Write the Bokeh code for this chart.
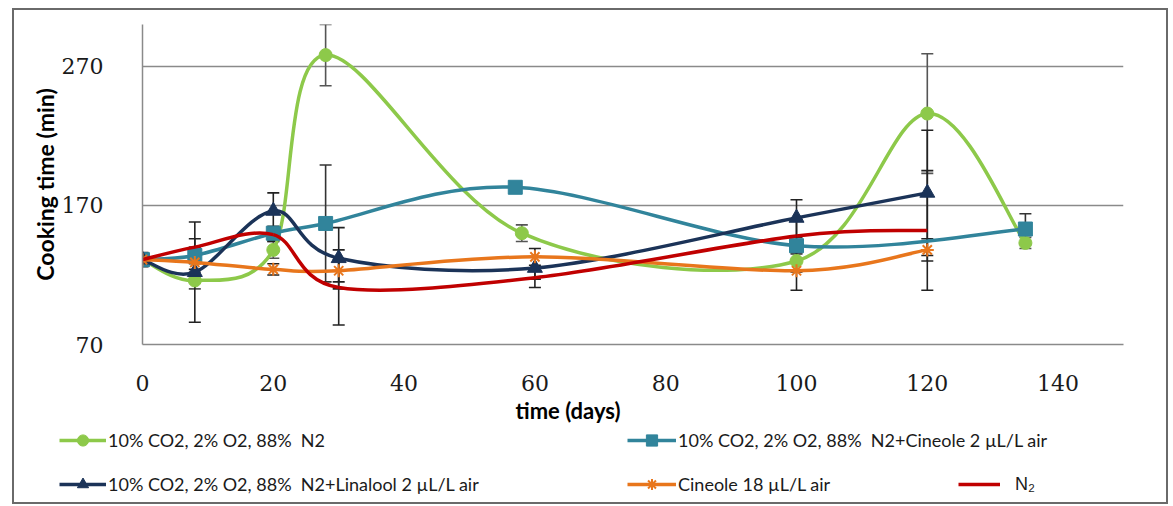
from bokeh.plotting import figure
from bokeh.layouts import column
from bokeh.models import (ColumnDataSource, Whisker, TeeHead, Legend, LegendItem,
                          FixedTicker, Range1d, Title)
from bokeh.embed import file_html
from bokeh.resources import INLINE

# ---------------- data ----------------
green_x = [0, 8, 20, 28, 58, 100, 120, 135]
green_y = [131, 116, 138, 278, 150, 130, 236, 143]
green_err = [4, 6, 6, 22, 6, 8, 43, 4]

blue_x = [0, 8, 20, 28, 57, 100, 135]
blue_y = [131, 134, 150, 157, 183, 141, 153]
blue_err = [4, 6, 5, 42, 4, 6, 11]

navy_x = [0, 8, 20, 30, 60, 100, 120]
navy_y = [131, 122, 166, 132, 125, 161, 179]
navy_err = [5, 36, 13, 22, 8, 13, 45]

orange_x = [0, 8, 20, 30, 60, 100, 120]
orange_y = [131, 129, 124, 123, 133, 123, 138]
orange_err = [4, 5, 4, 8, 6, 14, 8]

red_x = [0, 8, 20, 30, 60, 100, 120]
red_y = [131, 140, 149, 111, 118, 148, 152]
red_err = [4, 6, 5, 27, 7, 12, 43]

labels = [
    "10% CO2, 2% O2, 88%  N2",
    "10% CO2, 2% O2, 88%  N2+Cineole 2 \u00b5L/L air",
    "10% CO2, 2% O2, 88%  N2+Linalool 2 \u00b5L/L air",
    "Cineole 18 \u00b5L/L air",
    "N\u2082",
]
x_title = "time (days)"
y_title = "Cooking time (min)"
x_ticks = [0, 20, 40, 60, 80, 100, 120, 140]
y_ticks = [70, 170, 270]

GREEN = "#8DC94A"
BLUE = "#31849B"
NAVY = "#1B3358"
ORANGE = "#E8761C"
RED = "#C00000"

W = 1152
HM, HL = 416, 76
LEFT, TOP, RIGHT = 128, 14, 43
BOTTOM = HM - 334

p = figure(width=W, height=HM, output_backend="svg", toolbar_location=None,
           x_range=Range1d(0, 150), y_range=Range1d(70, 300),
           min_border_left=LEFT, min_border_top=TOP,
           min_border_right=RIGHT, min_border_bottom=BOTTOM)
p.frame_align = False
p.outline_line_color = None
p.background_fill_color = "white"
p.border_fill_color = "white"

p.xgrid.grid_line_color = None
p.ygrid.ticker = FixedTicker(ticks=y_ticks)
p.ygrid.grid_line_color = "#8a8a8a"
p.ygrid.grid_line_width = 1.3

p.xaxis.ticker = FixedTicker(ticks=x_ticks)
p.yaxis.ticker = FixedTicker(ticks=y_ticks)
for ax in (p.xaxis[0], p.yaxis[0]):
    ax.axis_line_color = "#8a8a8a"
    ax.axis_line_width = 1.5
    ax.major_tick_line_color = None
    ax.minor_tick_line_color = None
    ax.major_label_text_font = "DejaVu Serif"
    ax.major_label_text_font_size = "22px"
    ax.major_label_text_color = "#1a1a1a"
    ax.axis_label_text_font = "Lato"
    ax.axis_label_text_font_style = "bold"
    ax.axis_label_text_color = "#000000"

p.xaxis.major_label_standoff = 24
p.yaxis.axis_label = y_title
p.yaxis.axis_label_text_font_size = "23px"
p.yaxis.major_label_standoff = 33
p.yaxis.axis_label_standoff = 0

# x-axis title sits left of centre, as in the original
p.add_layout(Title(text=x_title, align="left", offset=373, standoff=3,
                   text_font="Lato", text_font_style="bold",
                   text_font_size="22px", text_color="#000000"), "below")


def bezier_source(xs, ys):
    n = len(xs)
    d = dict(x0=[], y0=[], x1=[], y1=[], cx0=[], cy0=[], cx1=[], cy1=[])
    for i in range(n - 1):
        a = i - 1 if i > 0 else i
        b = i + 2 if i + 2 < n else i + 1
        d["x0"].append(xs[i]); d["y0"].append(ys[i])
        d["x1"].append(xs[i + 1]); d["y1"].append(ys[i + 1])
        d["cx0"].append(xs[i] + (xs[i + 1] - xs[a]) / 6.0)
        d["cy0"].append(ys[i] + (ys[i + 1] - ys[a]) / 6.0)
        d["cx1"].append(xs[i + 1] - (xs[b] - xs[i]) / 6.0)
        d["cy1"].append(ys[i + 1] - (ys[b] - ys[i]) / 6.0)
    return ColumnDataSource(d)


series = [
    (green_x, green_y, green_err, GREEN, "circle", 13, "#555555"),
    (blue_x, blue_y, blue_err, BLUE, "square", 14, "#333333"),
    (navy_x, navy_y, navy_err, NAVY, "triangle", 15, "#222222"),
    (orange_x, orange_y, orange_err, ORANGE, "asterisk", 13, "#222222"),
    (red_x, red_y, red_err, RED, None, 0, "#222222"),
]

# error bars
for xs, ys, es, col, mk, sz, ecol in series:
    src = ColumnDataSource(dict(x=xs, up=[y + e for y, e in zip(ys, es)],
                                lo=[y - e for y, e in zip(ys, es)]))
    w = Whisker(base="x", upper="up", lower="lo", source=src, dimension="height",
                line_color=ecol, line_width=1.6,
                upper_head=TeeHead(size=12, line_color=ecol, line_width=1.6),
                lower_head=TeeHead(size=12, line_color=ecol, line_width=1.6))
    p.add_layout(w)

# legend strip below the chart (own figure so the legend is never clipped);
# it shows the same series, whose values lie outside this strip's ranges
pl = figure(width=W, height=HL, output_backend="svg", toolbar_location=None,
            x_range=Range1d(0, 150), y_range=Range1d(0, 1),
            x_axis_type=None, y_axis_type=None,
            min_border_left=0, min_border_right=0, min_border_top=0,
            min_border_bottom=0)
pl.frame_align = False
pl.outline_line_color = None
pl.xgrid.grid_line_color = None
pl.ygrid.grid_line_color = None
pl.background_fill_color = "white"
pl.border_fill_color = "white"


def draw(fig, xs, ys, col, mk, sz):
    bsrc = bezier_source(xs, ys)
    r = [fig.bezier(x0="x0", y0="y0", x1="x1", y1="y1", cx0="cx0", cy0="cy0",
                    cx1="cx1", cy1="cy1", source=bsrc, line_color=col,
                    line_width=3.5)]
    if mk is not None:
        if mk == "asterisk":
            r.append(fig.scatter(xs, ys, marker=mk, size=sz, line_color=col,
                                 line_width=2))
        else:
            r.append(fig.scatter(xs, ys, marker=mk, size=sz, fill_color=col,
                                 line_color=col, line_width=1))
    return r


legend_rends = []
for xs, ys, es, col, mk, sz, ecol in series:
    draw(p, xs, ys, col, mk, sz)
    legend_rends.append(draw(pl, xs, ys, col, mk, sz))

# (x from left, y from bottom) of each legend entry inside the strip
positions = [(45, 48), (613, 48), (45, 4), (613, 4), (944, 4)]
for i, (lab, rends, loc) in enumerate(zip(labels, legend_rends, positions)):
    is_n2 = i == 4
    lg = Legend(items=[LegendItem(label=lab, renderers=rends)], location=loc,
                orientation="horizontal", padding=0, margin=0, spacing=0,
                glyph_width=42 if is_n2 else (49 if i in (1, 3) else 47),
                glyph_height=28, label_height=28,
                label_standoff=15 if is_n2 else 2,
                border_line_color=None, background_fill_alpha=0,
                label_text_font="Liberation Sans" if is_n2 else "Lato",
                label_text_font_size="18px",
                label_text_color="#1a1a1a")
    pl.add_layout(lg, "center")

layout = column(p, pl, spacing=0)
layout.styles = {"border": "2px solid #6a6a6a", "margin-left": "12px",
                 "margin-top": "8px"}

open("out.html", "w").write(file_html(layout, INLINE))
